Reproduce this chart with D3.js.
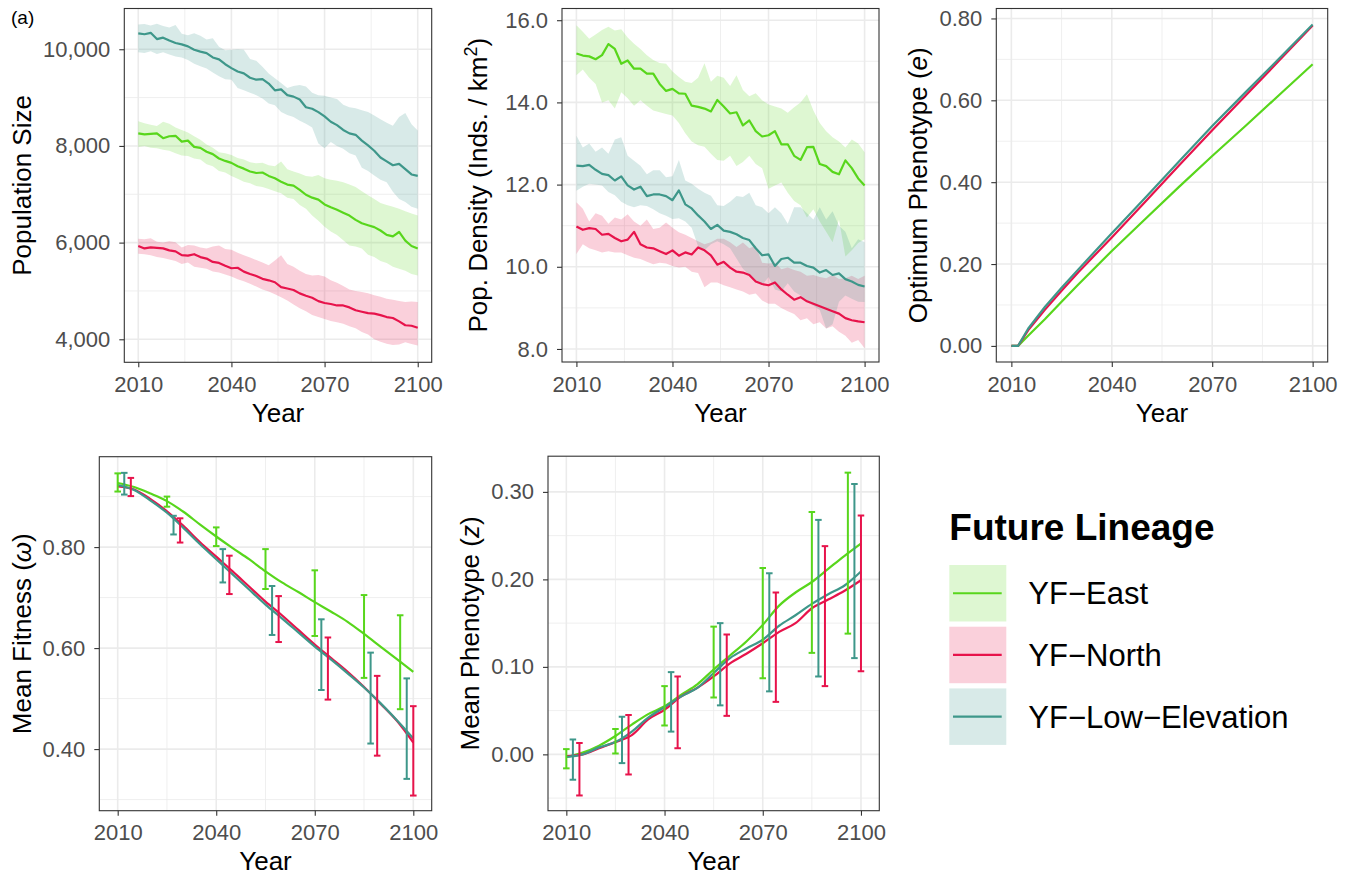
<!DOCTYPE html>
<html>
<head>
<meta charset="utf-8">
<script src="https://cdn.jsdelivr.net/npm/d3@7"></script>
<style>
  body { margin: 0; background: #fff; }
  text { font-family: "Liberation Sans", Arial, Helvetica, sans-serif; }
</style>
</head>
<body>
<script>
// ---- data ----
var lineages = ["YF\u2212East", "YF\u2212North", "YF\u2212Low\u2212Elevation"];
var xTicks = [2010, 2040, 2070, 2100];
var xMinor = [2025, 2055, 2085];

var popYears = [2010, 2012, 2014, 2016, 2018, 2020, 2022, 2024, 2026, 2028,
  2030, 2032, 2034, 2036, 2038, 2040, 2042, 2044, 2046, 2048,
  2050, 2052, 2054, 2056, 2058, 2060, 2062, 2064, 2066, 2068,
  2070, 2072, 2074, 2076, 2078, 2080, 2082, 2084, 2086, 2088,
  2090, 2092, 2094, 2096, 2098, 2100];

// population size
var popEastMean = [8260, 8240, 8250, 8260, 8160, 8200, 8210, 8090, 8110, 7980,
  7960, 7880, 7830, 7740, 7690, 7650, 7580, 7530, 7470, 7440,
  7450, 7380, 7330, 7260, 7200, 7180, 7090, 6990, 6930, 6890,
  6790, 6730, 6680, 6620, 6560, 6470, 6400, 6360, 6320, 6250,
  6160, 6130, 6220, 6040, 5930, 5880];
var popEastHi = [8510, 8470, 8440, 8410, 8500, 8460, 8380, 8330, 8280, 8200,
  8130, 8030, 7960, 7870, 7850, 7810, 7750, 7720, 7660, 7640,
  7650, 7600, 7580, 7680, 7520, 7470, 7430, 7380, 7360, 7400,
  7330, 7300, 7280, 7250, 7200, 7150, 7060, 6980, 6900, 6820,
  6780, 6740, 6700, 6650, 6600, 6560];
var popEastLo = [7980, 8000, 7960, 7950, 7920, 7900, 7850, 7800, 7790, 7740,
  7720, 7620, 7580, 7480, 7450, 7380, 7320, 7260, 7230, 7170,
  7150, 7110, 7060, 7020, 6930, 6900, 6780, 6700, 6560, 6450,
  6330, 6230, 6160, 6050, 5940, 5920, 5880, 5750, 5700, 5620,
  5580, 5500, 5460, 5420, 5350, 5320];
var popNorthMean = [5930, 5880, 5900, 5890, 5880, 5840, 5820, 5740, 5730, 5760,
  5700, 5670, 5600, 5580, 5520, 5470, 5480, 5400, 5350, 5310,
  5250, 5220, 5180, 5080, 5050, 5020, 4950, 4900, 4860, 4790,
  4750, 4730, 4700, 4700, 4660, 4600, 4570, 4540, 4530, 4500,
  4460, 4440, 4370, 4290, 4280, 4240];
var popNorthHi = [6080, 6070, 6090, 6020, 6000, 6030, 6010, 5900, 5950, 5940,
  5900, 5880, 5920, 5940, 5870, 5850, 5790, 5740, 5690, 5640,
  5590, 5530, 5630, 5740, 5560, 5500, 5420, 5350, 5320, 5330,
  5300, 5220, 5170, 5100, 5030, 5000, 4980, 4950, 4910, 4880,
  4840, 4820, 4790, 4770, 4780, 4770];
var popNorthLo = [5770, 5760, 5740, 5700, 5680, 5650, 5620, 5560, 5590, 5500,
  5480, 5460, 5400, 5380, 5340, 5300, 5240, 5200, 5150, 5090,
  5030, 4990, 4930, 4870, 4800, 4720, 4640, 4580, 4500, 4460,
  4420, 4380, 4350, 4320, 4270, 4230, 4150, 4100, 4000, 3950,
  3910, 3880, 3890, 3940, 3900, 3870];
var popLowMean = [10330, 10310, 10340, 10210, 10240, 10180, 10130, 10100, 10060, 9990,
  9950, 9920, 9830, 9790, 9690, 9610, 9540, 9500, 9410, 9370,
  9380, 9290, 9150, 9170, 9050, 9020, 8960, 8800, 8770, 8700,
  8610, 8500, 8430, 8330, 8260, 8230, 8110, 8010, 7900, 7760,
  7680, 7600, 7630, 7520, 7410, 7380];
var popLowHi = [10510, 10520, 10490, 10530, 10480, 10450, 10500, 10320, 10290, 10330,
  10280, 10200, 10230, 10050, 9980, 9990, 10000, 9990, 9800, 9760,
  9640, 9500, 9400, 9300, 9200, 9240, 9260, 9230, 9100, 9050,
  9040, 9000, 8970, 8850, 8800, 8780, 8740, 8700, 8630, 8550,
  8480, 8420, 8600, 8680, 8450, 8320];
var popLowLo = [9940, 9920, 9960, 9900, 9940, 9890, 9850, 9830, 9780, 9700,
  9650, 9600, 9520, 9440, 9380, 9370, 9200, 9150, 9100, 9050,
  8980, 8880, 8840, 8700, 8640, 8600, 8520, 8460, 8380, 8050,
  7950, 8080, 8000, 7940, 7850, 7800, 7550, 7480, 7390, 7300,
  7250, 7050, 6900, 6840, 6740, 6700];

// population density
var densEastMean = [15.19, 15.14, 15.12, 15.05, 15.15, 15.42, 15.30, 14.94, 15.02, 14.82,
  14.82, 14.70, 14.70, 14.45, 14.28, 14.33, 14.22, 14.21, 13.92, 13.89,
  13.85, 13.78, 14.06, 13.90, 13.73, 13.76, 13.44, 13.56, 13.30, 13.17,
  13.20, 13.30, 12.98, 12.98, 12.70, 12.60, 12.91, 12.92, 12.50, 12.45,
  12.31, 12.25, 12.59, 12.40, 12.15, 11.98];
var densEastHi = [15.88, 15.72, 15.55, 15.65, 15.76, 15.84, 15.75, 15.78, 15.58, 15.43,
  15.30, 15.15, 15.03, 14.96, 14.94, 14.75, 14.62, 14.50, 14.47, 14.60,
  14.95, 14.50, 14.65, 14.60, 14.40, 14.66, 14.30, 14.15, 14.22, 14.05,
  13.95, 13.90, 13.85, 13.75, 13.88, 14.00, 14.20, 13.80, 13.50, 13.30,
  13.15, 13.05, 12.90, 13.10, 13.00, 12.79];
var densEastLo = [14.66, 14.80, 14.60, 14.45, 14.00, 14.05, 13.85, 14.25, 14.10, 13.92,
  14.05, 13.92, 13.80, 13.76, 13.72, 13.68, 13.50, 13.25, 13.05, 12.96,
  12.92, 12.75, 12.60, 12.58, 12.70, 12.45, 12.55, 12.70, 12.50, 12.40,
  11.90, 11.98, 12.05, 11.80, 11.60, 11.50, 11.20, 11.40, 11.10, 10.85,
  10.60, 11.15, 10.25, 10.40, 10.58, 10.67];
var densNorthMean = [10.98, 10.90, 10.94, 10.92, 10.78, 10.80, 10.70, 10.62, 10.66, 10.85,
  10.55, 10.47, 10.45, 10.38, 10.31, 10.40, 10.27, 10.35, 10.30, 10.47,
  10.40, 10.28, 10.05, 10.12, 9.98, 9.88, 9.86, 9.80, 9.64, 9.58,
  9.55, 9.62, 9.45, 9.32, 9.20, 9.26, 9.16, 9.10, 9.04, 8.98,
  8.92, 8.86, 8.75, 8.70, 8.67, 8.65];
var densNorthHi = [11.57, 11.41, 11.10, 11.30, 11.24, 11.05, 11.20, 11.15, 11.28, 11.10,
  11.00, 11.15, 10.92, 10.95, 11.08, 10.95, 10.84, 10.78, 10.70, 10.62,
  10.55, 10.60, 10.68, 10.68, 10.60, 10.48, 10.59, 10.45, 10.51, 10.10,
  10.08, 10.10, 9.94, 9.98, 9.92, 9.88, 9.78, 9.80, 9.75, 9.72,
  9.80, 9.70, 9.72, 9.78, 9.70, 9.78];
var densNorthLo = [10.31, 10.55, 10.45, 10.40, 10.35, 10.38, 10.35, 10.35, 10.28, 10.22,
  10.19, 10.12, 10.06, 10.10, 10.08, 10.02, 9.98, 10.00, 9.88, 9.85,
  9.50, 9.62, 9.62, 9.55, 9.50, 9.45, 9.40, 9.32, 9.35, 9.18,
  9.10, 9.10, 9.00, 8.92, 8.85, 8.70, 8.75, 8.60, 8.65, 8.50,
  8.55, 8.42, 8.32, 8.15, 8.22, 8.02];
var densLowMean = [12.46, 12.45, 12.48, 12.36, 12.26, 12.23, 12.10, 12.20, 11.98, 11.88,
  11.95, 11.72, 11.76, 11.76, 11.72, 11.62, 11.86, 11.52, 11.42, 11.25,
  11.10, 10.92, 11.02, 10.88, 10.85, 10.79, 10.70, 10.65, 10.45, 10.28,
  10.30, 10.02, 10.19, 10.22, 10.10, 10.10, 10.02, 9.98, 9.86, 9.92,
  9.80, 9.84, 9.70, 9.64, 9.56, 9.52];
var densLowHi = [13.19, 12.90, 13.00, 12.80, 12.90, 12.75, 13.10, 13.15, 12.70, 12.58,
  12.46, 12.25, 12.35, 12.35, 12.18, 12.20, 12.60, 12.10, 12.02, 11.90,
  11.80, 11.73, 11.50, 11.48, 11.58, 11.72, 11.70, 11.80, 11.50, 11.45,
  11.30, 11.45, 11.30, 11.05, 11.45, 11.45, 11.30, 11.15, 11.45, 11.15,
  11.35, 11.00, 10.85, 10.45, 10.67, 10.60];
var densLowLo = [11.85, 11.95, 12.02, 12.00, 11.98, 11.82, 11.74, 11.58, 11.50, 11.45,
  11.50, 11.48, 11.40, 11.30, 11.24, 11.16, 11.18, 11.10, 10.95, 10.50,
  10.40, 10.55, 10.62, 10.55, 10.45, 10.20, 9.95, 9.80, 9.68, 9.55,
  9.75, 9.45, 9.40, 9.60, 9.40, 9.30, 9.15, 9.05, 8.95, 8.50,
  8.60, 9.15, 9.30, 9.22, 9.15, 9.14];

// optimum phenotype
var optYears = [2010, 2011, 2012, 2015, 2020, 2025, 2030, 2040, 2050, 2060, 2070, 2080, 2090, 2100];
var optEast = [0, 0, 0, 0.025, 0.065, 0.108, 0.150, 0.232, 0.310, 0.388, 0.464, 0.538, 0.613, 0.688];
var optNorth = [0, 0, 0, 0.038, 0.088, 0.135, 0.180, 0.265, 0.352, 0.440, 0.527, 0.612, 0.697, 0.783];
var optLow = [0, 0, 0, 0.042, 0.095, 0.142, 0.187, 0.275, 0.362, 0.450, 0.537, 0.620, 0.702, 0.785];

// mean fitness
var fitYears = [2010, 2015, 2020, 2025, 2030, 2035, 2040, 2045, 2050, 2055,
  2060, 2065, 2070, 2075, 2080, 2085, 2090, 2095, 2100];
var fitEast = [0.927, 0.919, 0.906, 0.891, 0.870, 0.845, 0.821, 0.798, 0.776, 0.752,
  0.730, 0.711, 0.691, 0.672, 0.652, 0.628, 0.603, 0.578, 0.553];
var fitNorth = [0.920, 0.914, 0.895, 0.871, 0.842, 0.810, 0.781, 0.752, 0.722, 0.692,
  0.665, 0.636, 0.607, 0.580, 0.553, 0.523, 0.490, 0.456, 0.413];
var fitLow = [0.923, 0.913, 0.892, 0.868, 0.838, 0.806, 0.776, 0.746, 0.716, 0.686,
  0.659, 0.631, 0.603, 0.577, 0.550, 0.522, 0.491, 0.457, 0.421];
var fitBarEastYears = [2010, 2025, 2040, 2055, 2070, 2085, 2096];
var fitBarEastLo = [0.910, 0.880, 0.802, 0.717, 0.624, 0.541, 0.479];
var fitBarEastHi = [0.946, 0.900, 0.839, 0.796, 0.754, 0.705, 0.665];
var fitBarNorthYears = [2014, 2029, 2044, 2059, 2074, 2089, 2100];
var fitBarNorthLo = [0.901, 0.809, 0.707, 0.612, 0.498, 0.387, 0.308];
var fitBarNorthHi = [0.937, 0.857, 0.783, 0.703, 0.621, 0.545, 0.485];
var fitBarLowYears = [2012, 2027, 2042, 2057, 2072, 2087, 2098];
var fitBarLowLo = [0.904, 0.825, 0.730, 0.626, 0.517, 0.411, 0.341];
var fitBarLowHi = [0.947, 0.862, 0.796, 0.723, 0.657, 0.591, 0.540];

// mean phenotype
var phenYears = fitYears;
var phenEast = [-0.003, 0.002, 0.010, 0.021, 0.034, 0.046, 0.055, 0.068, 0.080, 0.097,
  0.113, 0.129, 0.148, 0.170, 0.185, 0.197, 0.212, 0.227, 0.241];
var phenNorth = [-0.002, 0.000, 0.007, 0.014, 0.022, 0.040, 0.051, 0.066, 0.076, 0.089,
  0.104, 0.115, 0.127, 0.140, 0.150, 0.167, 0.177, 0.187, 0.199];
var phenLow = [-0.003, 0.000, 0.008, 0.014, 0.026, 0.042, 0.054, 0.066, 0.076, 0.093,
  0.110, 0.121, 0.131, 0.147, 0.159, 0.172, 0.183, 0.193, 0.209];
var phenBarEastLo = [-0.016, 0.001, 0.033, 0.065, 0.087, 0.116, 0.138];
var phenBarEastHi = [0.006, 0.029, 0.078, 0.146, 0.213, 0.277, 0.322];
var phenBarNorthLo = [-0.047, -0.023, 0.007, 0.044, 0.060, 0.078, 0.095];
var phenBarNorthHi = [0.013, 0.045, 0.089, 0.137, 0.185, 0.238, 0.273];
var phenBarLowLo = [-0.029, -0.010, 0.026, 0.056, 0.072, 0.089, 0.110];
var phenBarLowHi = [0.017, 0.043, 0.094, 0.150, 0.207, 0.268, 0.309];

// tick values
var popTicks = [4000, 6000, 8000, 10000], popMinor = [5000, 7000, 9000];
var densTicks = [8, 10, 12, 14, 16], densMinor = [9, 11, 13, 15];
var optTicks = [0, 0.2, 0.4, 0.6, 0.8], optMinor = [0.1, 0.3, 0.5, 0.7];
var fitTicks = [0.4, 0.6, 0.8], fitMinor = [0.3, 0.5, 0.7, 0.9];
var phenTicks = [0, 0.1, 0.2, 0.3], phenMinor = [-0.05, 0.05, 0.15, 0.25];

// ---- styles ----
var colors = ["#58d61c", "#e7134b", "#3e978a"];

var svg = d3.select("body").append("svg")
  .attr("width", 1354)
  .attr("height", 879);
svg.append("rect").attr("width", 1354).attr("height", 879).attr("fill", "#fff");

function styleAxis(a) {
  a.select(".domain").remove();
  a.attr("font-size", 22).attr("font-family", null);
  a.selectAll(".tick line").attr("stroke", "#333").attr("stroke-width", 1.1);
  a.selectAll(".tick text").attr("fill", "#4d4d4d");
}

function makePanel(p) {
  var x = d3.scaleLinear().domain(p.xDomain).range([p.left, p.right]);
  var y = d3.scaleLinear().domain(p.yDomain).range([p.bottom, p.top]);
  var g = svg.append("g");

  // grid
  g.selectAll(null).data(p.yMinor).enter().append("line")
    .attr("x1", p.left).attr("x2", p.right)
    .attr("y1", function(d) { return y(d); }).attr("y2", function(d) { return y(d); })
    .attr("stroke", "#ebebeb").attr("stroke-width", 0.8);
  g.selectAll(null).data(xMinor).enter().append("line")
    .attr("y1", p.top).attr("y2", p.bottom)
    .attr("x1", function(d) { return x(d); }).attr("x2", function(d) { return x(d); })
    .attr("stroke", "#ebebeb").attr("stroke-width", 0.8);
  g.selectAll(null).data(p.yTicks).enter().append("line")
    .attr("x1", p.left).attr("x2", p.right)
    .attr("y1", function(d) { return y(d); }).attr("y2", function(d) { return y(d); })
    .attr("stroke", "#ebebeb").attr("stroke-width", 1.6);
  g.selectAll(null).data(xTicks).enter().append("line")
    .attr("y1", p.top).attr("y2", p.bottom)
    .attr("x1", function(d) { return x(d); }).attr("x2", function(d) { return x(d); })
    .attr("stroke", "#ebebeb").attr("stroke-width", 1.6);

  // axes
  g.append("g")
    .attr("transform", "translate(0," + p.bottom + ")")
    .call(d3.axisBottom(x).tickValues(xTicks).tickSize(5).tickPadding(9).tickFormat(d3.format("d")))
    .call(styleAxis);
  g.append("g")
    .attr("transform", "translate(" + p.left + ",0)")
    .call(d3.axisLeft(y).tickValues(p.yTicks).tickSize(5).tickPadding(9).tickFormat(p.fmt))
    .call(styleAxis);

  // axis titles
  g.append("text")
    .attr("x", (p.left + p.right) / 2)
    .attr("y", p.bottom + 59.5)
    .attr("text-anchor", "middle")
    .style("font-size", "26px")
    .text("Year");
  var t = g.append("text")
    .attr("transform", "translate(" + p.titleX + "," + (p.top + p.bottom) / 2 + ") rotate(-90)")
    .attr("text-anchor", "middle")
    .style("font-size", "26px");
  p.title(t);

  return { x: x, y: y, p: p };
}

function border(pn) {
  svg.append("rect")
    .attr("x", pn.p.left).attr("y", pn.p.top)
    .attr("width", pn.p.right - pn.p.left).attr("height", pn.p.bottom - pn.p.top)
    .attr("fill", "none").attr("stroke", "#333").attr("stroke-width", 1.1);
}

function ribbon(pn, yrs, lo, hi, color) {
  var area = d3.area()
    .x(function(d, i) { return pn.x(yrs[i]); })
    .y0(function(d, i) { return pn.y(lo[i]); })
    .y1(function(d, i) { return pn.y(hi[i]); });
  svg.append("path").datum(yrs).attr("d", area)
    .attr("fill", color).attr("fill-opacity", 0.2);
}

function line(pn, yrs, vals, color, curve) {
  var ln = d3.line()
    .x(function(d, i) { return pn.x(yrs[i]); })
    .y(function(d) { return pn.y(d); })
    .curve(curve || d3.curveLinear);
  svg.append("path").datum(vals).attr("d", ln)
    .attr("fill", "none").attr("stroke", color).attr("stroke-width", 2.2)
    .attr("stroke-linejoin", "round");
}

function errorBars(pn, yrs, lo, hi, color) {
  var data = yrs.map(function(yr, i) { return { yr: yr, lo: lo[i], hi: hi[i] }; });
  var gg = svg.append("g").attr("stroke", color).attr("stroke-width", 2);
  gg.selectAll(null).data(data).enter().append("line")
    .attr("x1", function(d) { return pn.x(d.yr); }).attr("x2", function(d) { return pn.x(d.yr); })
    .attr("y1", function(d) { return pn.y(d.lo); }).attr("y2", function(d) { return pn.y(d.hi); });
  ["lo", "hi"].forEach(function(k) {
    gg.selectAll(null).data(data).enter().append("line")
      .attr("x1", function(d) { return pn.x(d.yr - 1); }).attr("x2", function(d) { return pn.x(d.yr + 1); })
      .attr("y1", function(d) { return pn.y(d[k]); }).attr("y2", function(d) { return pn.y(d[k]); });
  });
}

// ---- panel 1: population size ----
var p1 = makePanel({
  left: 124.3, right: 431.7, top: 8.5, bottom: 362.3,
  xDomain: [2005.5, 2104.5], yDomain: [3524, 10843],
  yTicks: popTicks, yMinor: popMinor, fmt: d3.format(","), titleX: 30.5,
  title: function(t) { t.text("Population Size"); }
});
ribbon(p1, popYears, popEastLo, popEastHi, colors[0]);
ribbon(p1, popYears, popNorthLo, popNorthHi, colors[1]);
ribbon(p1, popYears, popLowLo, popLowHi, colors[2]);
line(p1, popYears, popEastMean, colors[0]);
line(p1, popYears, popNorthMean, colors[1]);
line(p1, popYears, popLowMean, colors[2]);
border(p1);

// ---- panel 2: population density ----
var p2 = makePanel({
  left: 562, right: 879, top: 8.5, bottom: 362,
  xDomain: [2005.5, 2104.5], yDomain: [7.683, 16.285],
  yTicks: densTicks, yMinor: densMinor, fmt: d3.format(".1f"), titleX: 487.3,
  title: function(t) {
    t.append("tspan").text("Pop. Density (Inds. / km");
    t.append("tspan").attr("dy", -10).style("font-size", "18px").text("2");
    t.append("tspan").attr("dy", 10).text(")");
  }
});
ribbon(p2, popYears, densEastLo, densEastHi, colors[0]);
ribbon(p2, popYears, densNorthLo, densNorthHi, colors[1]);
ribbon(p2, popYears, densLowLo, densLowHi, colors[2]);
line(p2, popYears, densEastMean, colors[0]);
line(p2, popYears, densNorthMean, colors[1]);
line(p2, popYears, densLowMean, colors[2]);
border(p2);

// ---- panel 3: optimum phenotype ----
var p3 = makePanel({
  left: 996.3, right: 1327.7, top: 8.5, bottom: 362,
  xDomain: [2005.5, 2104.5], yDomain: [-0.0393, 0.8243],
  yTicks: optTicks, yMinor: optMinor, fmt: d3.format(".2f"), titleX: 927.3,
  title: function(t) {
    t.append("tspan").text("Optimum Phenotype (");
    t.append("tspan").style("font-style", "italic").text("e");
    t.append("tspan").text(")");
  }
});
line(p3, optYears, optEast, colors[0]);
line(p3, optYears, optNorth, colors[1]);
line(p3, optYears, optLow, colors[2]);
border(p3);

// ---- panel 4: mean fitness ----
var p4 = makePanel({
  left: 99.3, right: 431.7, top: 456.7, bottom: 810.7,
  xDomain: [2004.4, 2105.6], yDomain: [0.278, 0.979],
  yTicks: fitTicks, yMinor: fitMinor, fmt: d3.format(".2f"), titleX: 30.7,
  title: function(t) {
    t.append("tspan").text("Mean Fitness (");
    t.append("tspan").style("font-style", "italic").text("\u03c9");
    t.append("tspan").text(")");
  }
});
line(p4, fitYears, fitEast, colors[0], d3.curveMonotoneX);
line(p4, fitYears, fitNorth, colors[1], d3.curveMonotoneX);
line(p4, fitYears, fitLow, colors[2], d3.curveMonotoneX);
errorBars(p4, fitBarEastYears, fitBarEastLo, fitBarEastHi, colors[0]);
errorBars(p4, fitBarNorthYears, fitBarNorthLo, fitBarNorthHi, colors[1]);
errorBars(p4, fitBarLowYears, fitBarLowLo, fitBarLowHi, colors[2]);
border(p4);

// ---- panel 5: mean phenotype ----
var p5 = makePanel({
  left: 548, right: 879.3, top: 456.2, bottom: 810.7,
  xDomain: [2004.4, 2105.6], yDomain: [-0.0644, 0.3408],
  yTicks: phenTicks, yMinor: phenMinor, fmt: d3.format(".2f"), titleX: 479.3,
  title: function(t) {
    t.append("tspan").text("Mean Phenotype (");
    t.append("tspan").style("font-style", "italic").text("z");
    t.append("tspan").text(")");
  }
});
line(p5, phenYears, phenEast, colors[0], d3.curveMonotoneX);
line(p5, phenYears, phenNorth, colors[1], d3.curveMonotoneX);
line(p5, phenYears, phenLow, colors[2], d3.curveMonotoneX);
errorBars(p5, fitBarEastYears, phenBarEastLo, phenBarEastHi, colors[0]);
errorBars(p5, fitBarNorthYears, phenBarNorthLo, phenBarNorthHi, colors[1]);
errorBars(p5, fitBarLowYears, phenBarLowLo, phenBarLowHi, colors[2]);
border(p5);

// ---- tag ----
svg.append("text").attr("x", 11).attr("y", 24).style("font-size", "19px").text("(a)");

// ---- legend ----
var legend = svg.append("g");
legend.append("text")
  .attr("x", 949.3).attr("y", 540)
  .style("font-size", "37px").style("font-weight", "bold")
  .text("Future Lineage");
lineages.forEach(function(name, i) {
  var ky = 565 + i * 61.7;
  legend.append("rect")
    .attr("x", 949.3).attr("y", ky).attr("width", 57).attr("height", 56.5)
    .attr("fill", colors[i]).attr("fill-opacity", 0.2);
  legend.append("line")
    .attr("x1", 953).attr("x2", 1001.7).attr("y1", ky + 28.25).attr("y2", ky + 28.25)
    .attr("stroke", colors[i]).attr("stroke-width", 2.2);
  legend.append("text")
    .attr("x", 1028.3).attr("y", ky + 28.25).attr("dy", "0.36em")
    .style("font-size", "31px")
    .text(name);
});
</script>
</body>
</html>
